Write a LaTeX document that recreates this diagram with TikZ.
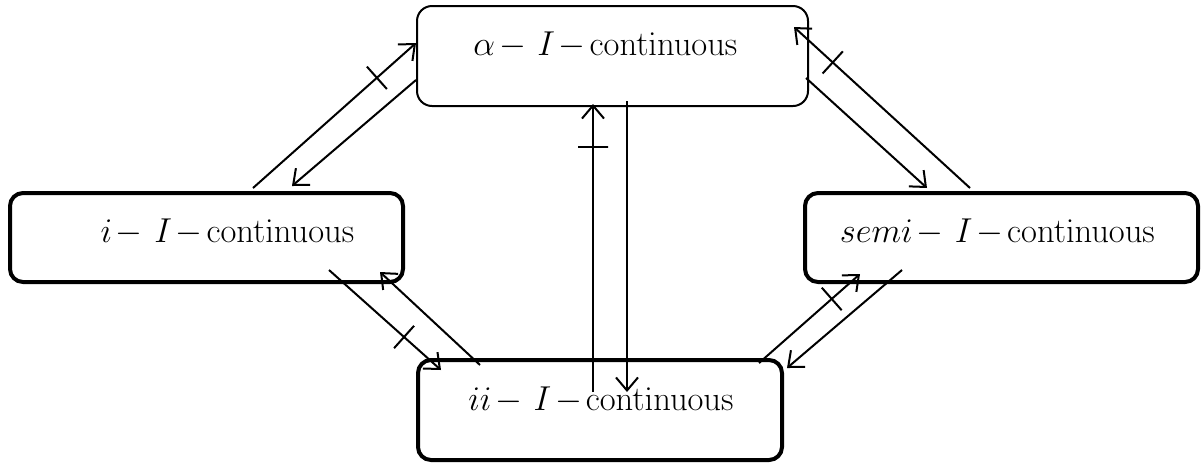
\documentclass[tikz,border=0pt]{standalone}
\usetikzlibrary{arrows.meta}
\newcommand{\impl}[1]{$#1\mskip2mu{-}\mskip6mu I\mskip2mu{-}\mskip2mu\mathrm{continuous}$}
\tikzset{
  thinbox/.style={draw, line width=1pt, rounded corners=7.5pt, inner sep=0pt},
  thickbox/.style={draw, line width=2pt, rounded corners=6.5pt, inner sep=0pt},
  boxlabel/.style={inner sep=0pt, font=\fontsize{16}{19}\selectfont},
  implies/.style={-{Straight Barb[length=6.5pt,width=11pt]}, line width=1pt},
  notmark/.style={sloped, draw, line width=1pt, inner sep=0pt,
                  minimum width=0pt, minimum height=15pt}
}

\begin{document}
\begin{tikzpicture}[x=0.5pt, y=-0.5pt]
  \useasboundingbox (0,0) rectangle (1204,462);

  % the four boxes
  \node[thinbox, minimum width=195.5pt, minimum height=50pt] (alphabox) at (612.5,56) {};
  \node[thickbox, minimum width=196.5pt, minimum height=44.5pt] (ibox) at (206.5,237.5) {};
  \node[thickbox, minimum width=196.5pt, minimum height=44.5pt] (semibox) at (1001.5,237.5) {};
  \node[thickbox, minimum width=182pt, minimum height=50pt] (iibox) at (600,410) {};

  \node[boxlabel] (alphalabel) at ([shift={(-7,-11)}]alphabox.center) {\impl{\alpha}};
  \node[boxlabel] (ilabel) at ([shift={(21,-5)}]ibox.center) {\impl{i}};
  \node[boxlabel] (semilabel) at ([shift={(-4,-5)}]semibox.center) {\impl{semi}};
  \node[boxlabel] (iilabel) at ([shift={(1,-10)}]iibox.center) {\impl{ii}};

  % left pair
  \draw[implies] ([shift={(46.5,-3)}]ibox.north) -- ([shift={(0,-13)}]alphabox.west)
    node[notmark, pos=0.76] (leftnot) {};
  \draw[implies] ([shift={(0,24)}]alphabox.west) -- ([shift={(85.5,-5)}]ibox.north);

  % right pair
  \draw[implies] ([shift={(-3,22)}]alphabox.east) -- ([shift={(-74.5,-3)}]semibox.north);
  \draw[implies] ([shift={(-31.5,-3)}]semibox.north) -- ([shift={(-15,22)}]alphabox.north east)
    node[notmark, pos=0.78] (rightnot) {};

  % middle pair
  \draw[implies] ([shift={(-7,-18)}]iibox.center) -- ([shift={(-19.5,-3)}]alphabox.south)
    node[notmark, pos=0.85] (midnot) {};
  \draw[implies] ([shift={(14.5,-6)}]alphabox.south) -- ([shift={(27,-18)}]iibox.center);

  % lower left pair
  \draw[implies] ([shift={(-76,-14)}]ibox.south east) -- ([shift={(25,12)}]iibox.north west)
    node[notmark, pos=0.67] (lowleftnot) {};
  \draw[implies] ([shift={(64,7)}]iibox.north west) -- ([shift={(-25,-12)}]ibox.south east);

  % lower right pair
  \draw[implies] ([shift={(-25,5)}]iibox.north east) -- ([shift={(57,-10)}]semibox.south west)
    node[notmark, pos=0.72] (lowrightnot) {};
  \draw[implies] ([shift={(99,-14)}]semibox.south west) -- ([shift={(3,10)}]iibox.north east);
\end{tikzpicture}
\end{document}
